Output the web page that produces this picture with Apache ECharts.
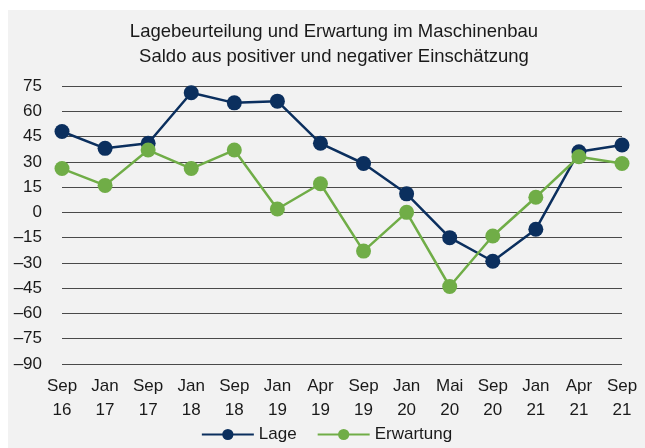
<!DOCTYPE html>
<html>
<head>
<meta charset="utf-8">
<script src="https://cdn.jsdelivr.net/npm/echarts@6/dist/echarts.min.js"></script>
<style>
  html, body { margin: 0; padding: 0; background: #fff; }
  #chart { position: absolute; left: 8px; top: 10px; width: 637px; height: 438px; background: #f2f2f2; }
</style>
</head>
<body>
<div id="chart"></div>
<script>
// Kategorien (Monat / Jahr)
const categories = ["Sep\n16", "Jan\n17", "Sep\n17", "Jan\n18", "Sep\n18", "Jan\n19", "Apr\n19",
  "Sep\n19", "Jan\n20", "Mai\n20", "Sep\n20", "Jan\n21", "Apr\n21", "Sep\n21"];
// Lagebeurteilung
const lage = [48, 38, 41, 71, 65, 66, 41, 29, 11, -15, -29, -10, 36, 40];
// Erwartung
const erwartung = [26, 16, 37, 26, 37, 2, 17, -23, 0, -44, -14, 9, 33, 29];
const yTicks = [75, 60, 45, 30, 15, 0, -15, -30, -45, -60, -75, -90];

const chart = echarts.init(document.getElementById("chart"));
const font = "Liberation Sans";

const option = {
  animation: false,
  title: {
    text: "Lagebeurteilung und Erwartung im Maschinenbau\nSaldo aus positiver und negativer Einschätzung",
    left: 321,
    top: 4,
    textAlign: "center",
    textStyle: {
      fontFamily: font,
      fontWeight: "normal",
      fontSize: 18.5,
      lineHeight: 25,
      color: "#1a1a1a",
    },
  },
  legend: {
    bottom: 0,
    left: "center",
    itemWidth: 52,
    itemHeight: 14,
    itemGap: 20,
    textStyle: { fontFamily: font, fontSize: 17, color: "#1a1a1a" },
    data: ["Lage", "Erwartung"],
  },
  grid: { left: 54, right: 23, top: 76, bottom: 84 },
  xAxis: {
    type: "category",
    data: categories,
    boundaryGap: false,
    axisLine: { show: false },
    axisTick: { show: false },
    axisLabel: {
      interval: 0,
      margin: 10,
      fontFamily: font,
      fontSize: 17,
      lineHeight: 24,
      color: "#1a1a1a",
    },
  },
  yAxis: {
    type: "value",
    min: yTicks[yTicks.length - 1],
    max: yTicks[0],
    interval: 15,
    axisLine: { show: false },
    axisTick: { show: false },
    axisLabel: {
      margin: 20,
      fontFamily: font,
      fontSize: 17,
      color: "#1a1a1a",
      formatter: (v) => String(v).replace("-", "–"),
    },
    splitLine: { lineStyle: { color: "#4a4a4a", width: 1 } },
  },
  series: [
    {
      name: "Lage",
      type: "line",
      data: lage,
      symbol: "circle",
      symbolSize: 15,
      color: "#0b2f5e",
      lineStyle: { width: 2.5 },
      z: 3,
    },
    {
      name: "Erwartung",
      type: "line",
      data: erwartung,
      symbol: "circle",
      symbolSize: 15,
      color: "#70ad47",
      lineStyle: { width: 2.5 },
      z: 4,
    },
  ],
};
chart.setOption(option);
</script>
</body>
</html>
